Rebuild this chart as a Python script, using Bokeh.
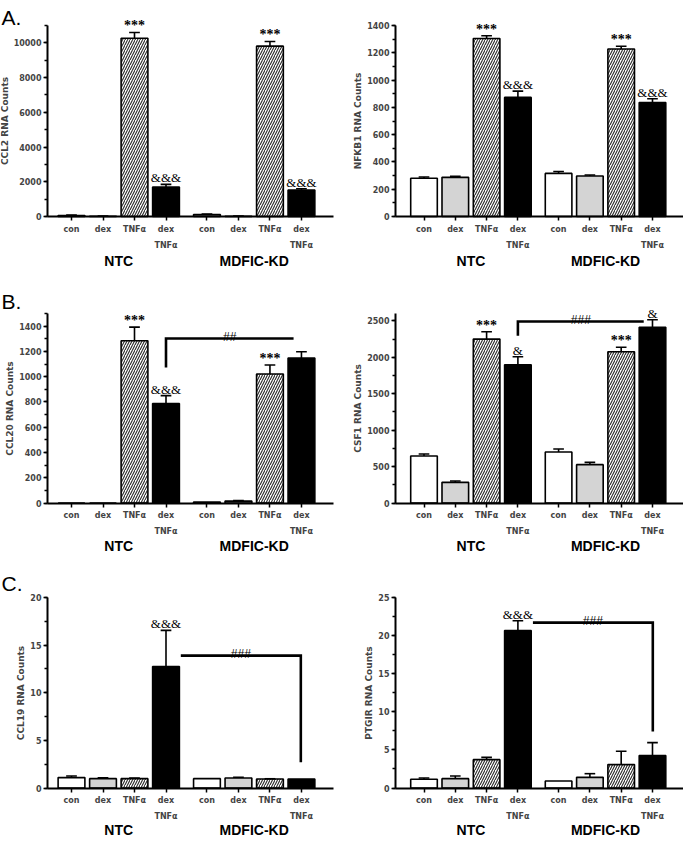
from bokeh.plotting import figure
from bokeh.models import Range1d, FixedTicker, ColumnDataSource, Label, LabelSet
from bokeh.layouts import column, row
from bokeh.embed import file_html
from bokeh.resources import INLINE

# ---------------- data ----------------
treatments = ["con", "dex", "TNFα", "dex\nTNFα"]
groups = ["NTC", "MDFIC-KD"]
treat_fill = ["white", "#d4d4d4", "white", "black"]
treat_hatch = [" ", " ", "right_diagonal_line", " "]

# order: NTC con, dex, TNFa, dex+TNFa, MDFIC-KD con, dex, TNFa, dex+TNFa
ccl2_mean = [60, 15, 10270, 1700, 110, 15, 9810, 1520]
ccl2_err = [20, 5, 330, 150, 30, 5, 270, 80]
ccl2_sig = ["", "", "***", "&&&", "", "", "***", "&&&"]

nfkb1_mean = [280, 287, 1305, 873, 316, 297, 1228, 836]
nfkb1_err = [10, 8, 20, 46, 14, 7, 20, 27]
nfkb1_sig = ["", "", "***", "&&&", "", "", "***", "&&&"]

ccl20_mean = [0, 0, 1284, 787, 8, 15, 1021, 1147]
ccl20_err = [0, 0, 108, 63, 0, 5, 71, 50]
ccl20_sig = ["", "", "***", "&&&", "", "", "***", ""]
ccl20_bracket_x = [30, 30, 70.5]
ccl20_bracket_y = [1073, 1302, 1302]
ccl20_bracket_label = "##"

csf1_mean = [645, 283, 2249, 1897, 700, 526, 2076, 2410]
csf1_err = [28, 18, 100, 110, 40, 32, 60, 105]
csf1_sig = ["", "", "***", "&", "", "", "***", "&"]
csf1_bracket_x = [30, 30, 70.2]
csf1_bracket_y = [2295, 2490, 2490]
csf1_bracket_label = "###"

ccl19_mean = [1.09, 0.98, 0.98, 12.75, 0.98, 1.05, 0.95, 0.95]
ccl19_err = [0.17, 0.08, 0.06, 3.8, 0, 0.08, 0.02, 0]
ccl19_sig = ["", "", "", "&&&", "", "", "", ""]
ccl19_bracket_x = [34.7, 72.8, 72.8]
ccl19_bracket_y = [13.9, 13.9, 2.7]
ccl19_bracket_label = "###"

ptgir_mean = [1.14, 1.23, 3.72, 20.67, 0.92, 1.40, 3.07, 4.25]
ptgir_err = [0.17, 0.35, 0.30, 1.27, 0, 0.48, 1.75, 1.71]
ptgir_sig = ["", "", "", "&&&", "", "", "", ""]
ptgir_bracket_x = [34.8, 73.1, 73.1]
ptgir_bracket_y = [21.7, 21.7, 7.4]
ptgir_bracket_label = "###"

# ---------------- layout (pixels on the page) ----------------
GAP = 13
POS = [g * (30 + GAP) + 10 * t for g in range(2) for t in range(4)]
GROUP_POS = [15, 58]

FIG_LEFT = [0, 340]
FIG_W = [340, 343]
FIG_TOP = [0, 270, 560]
FIG_H = [270, 290, 281]
FIRST_BAR_PX = [71, 423.5]
PX_PER_UNIT = [3.15, 3.13]
YAXIS_PX = [47, 395]
XAXIS_END_PX = [333, 683]
BASE_PX = [216, 502.5, 787.5]
TOP_PX = [25, 313, 597]
LETTER_BASE_PX = [17, 301, 583]
GROUP_DY = [44, 43, 42]

TICK_FONT = "DejaVu Sans"
LAB_FONT = "Liberation Sans"


def make_panel(letter, ylabel, mean, err, sig, ymax, major, minor,
               bx, by, blabel, col, rowi):
    W, H = FIG_W[col], FIG_H[rowi]
    fl, ft = FIG_LEFT[col], FIG_TOP[rowi]
    c0, ppu = FIRST_BAR_PX[col], PX_PER_UNIT[col]
    base, top = BASE_PX[rowi], TOP_PX[rowi]
    ppy = (base - top) / ymax

    def X(px):
        return (px - c0) / ppu

    def Y(py):
        return (base - py) / ppy

    p = figure(width=W, height=H,
               x_range=Range1d(X(fl), X(fl + W)), y_range=Range1d(Y(ft + H), Y(ft)),
               output_backend="svg", toolbar_location=None,
               min_border_left=0, min_border_right=0, min_border_top=0,
               min_border_bottom=0)
    p.outline_line_color = None
    p.xgrid.visible = False
    p.ygrid.visible = False
    p.background_fill_color = "white"
    p.border_fill_color = "white"

    fills = [treat_fill[i % 4] for i in range(8)]
    hatches = [treat_hatch[i % 4] for i in range(8)]
    src = ColumnDataSource(dict(x=POS, top=mean, fill=fills, hatch=hatches))
    p.vbar(x="x", top="top", width=8.5, bottom=0, source=src, fill_color="fill",
           line_color="black", line_width=1.6, hatch_pattern="hatch",
           hatch_color="#2a2a2a", hatch_scale=5, hatch_weight=1.1)

    # error bars (upper)
    ex, ey0, ey1 = [], [], []
    for x, m, e in zip(POS, mean, err):
        if e > 0:
            ex.append(x); ey0.append(m); ey1.append(m + e)
    p.segment(x0=ex, y0=ey0, x1=ex, y1=ey1, line_color="black", line_width=1.6)
    p.segment(x0=[x - 1.7 for x in ex], y0=ey1, x1=[x + 1.7 for x in ex], y1=ey1,
              line_color="black", line_width=1.6)

    # significance labels
    for kind, size, style in (("*", "14px", "bold"), ("&", "13px", "normal")):
        sx, sy, st = [], [], []
        for x, m, e, s in zip(POS, mean, err, sig):
            if s and s[0] == kind:
                sx.append(x); sy.append(m + e); st.append(s)
        if sx:
            p.add_layout(LabelSet(x="x", y="y", text="t",
                                  source=ColumnDataSource(dict(x=sx, y=sy, t=st)),
                                  text_align="center", text_baseline="alphabetic",
                                  y_offset=2, text_font=LAB_FONT, text_font_size=size,
                                  text_font_style=style, text_color="black"))

    if bx is not None:
        p.line(x=bx, y=by, line_color="black", line_width=2.6, line_join="miter")
        mid = (min(bx) + max(bx)) / 2
        p.add_layout(Label(x=mid, y=max(by), text=blabel, text_align="center",
                           text_baseline="alphabetic", y_offset=2, text_font=LAB_FONT,
                           text_font_size="12px", text_color="black"))

    # y axis (fixed inside the frame)
    majors = []
    v = 0
    while v <= ymax + 1e-9:
        majors.append(v); v += major
    minors = []
    v = 0
    while v <= ymax + 1e-9:
        minors.append(v); v += minor
    ya = p.yaxis[0]
    ya.fixed_location = X(YAXIS_PX[col])
    ya.bounds = (0, ymax)
    ya.ticker = FixedTicker(ticks=majors, minor_ticks=minors)
    ya.axis_label = ylabel
    ya.axis_label_text_font = TICK_FONT
    ya.axis_label_text_font_style = "bold"
    ya.axis_label_text_font_size = "9px"
    ya.axis_label_standoff = 1
    ya.major_label_text_font = TICK_FONT
    ya.major_label_text_font_style = "bold"
    ya.major_label_text_font_size = "8px"
    ya.major_label_standoff = 2
    ya.axis_line_width = 2
    ya.major_tick_line_width = 1.5
    ya.minor_tick_line_width = 1.5
    ya.major_tick_in = 0
    ya.major_tick_out = 4
    ya.minor_tick_in = 0
    ya.minor_tick_out = 3

    # x axis (treatments), fixed at y = 0
    xa = p.xaxis[0]
    xa.fixed_location = 0
    xa.bounds = (X(YAXIS_PX[col]), X(XAXIS_END_PX[col]))
    xa.ticker = FixedTicker(ticks=POS, minor_ticks=[])
    xa.major_label_overrides = {POS[i]: treatments[i % 4] for i in range(8)}
    xa.major_label_text_font = TICK_FONT
    xa.major_label_text_font_style = "bold"
    xa.major_label_text_font_size = "8px"
    xa.major_label_text_line_height = 1.8
    xa.major_label_standoff = 4
    xa.axis_line_width = 2
    xa.major_tick_line_width = 1.5
    xa.major_tick_in = 0
    xa.major_tick_out = 4

    # group labels
    for gx, g in zip(GROUP_POS, groups):
        p.add_layout(Label(x=gx, y=Y(base + GROUP_DY[rowi]), text=g, text_align="center",
                           text_baseline="middle", text_font=LAB_FONT,
                           text_font_style="bold", text_font_size="14px",
                           text_color="black"))

    # panel letter
    if letter:
        p.add_layout(Label(x=X(fl + 1), y=Y(LETTER_BASE_PX[rowi]), text=letter,
                           text_font=LAB_FONT, text_font_size="21px",
                           text_baseline="alphabetic", text_align="left",
                           text_color="black"))
    return p


a1 = make_panel("A.", "CCL2 RNA Counts", ccl2_mean, ccl2_err, ccl2_sig, 11000, 2000, 1000,
                None, None, None, 0, 0)
a2 = make_panel("", "NFKB1 RNA Counts", nfkb1_mean, nfkb1_err, nfkb1_sig, 1400, 200, 100,
                None, None, None, 1, 0)
b1 = make_panel("B.", "CCL20 RNA Counts", ccl20_mean, ccl20_err, ccl20_sig, 1500, 200, 100,
                ccl20_bracket_x, ccl20_bracket_y, ccl20_bracket_label, 0, 1)
b2 = make_panel("", "CSF1 RNA Counts", csf1_mean, csf1_err, csf1_sig, 2600, 500, 250,
                csf1_bracket_x, csf1_bracket_y, csf1_bracket_label, 1, 1)
c1 = make_panel("C.", "CCL19 RNA Counts", ccl19_mean, ccl19_err, ccl19_sig, 20, 5, 2.5,
                ccl19_bracket_x, ccl19_bracket_y, ccl19_bracket_label, 0, 2)
c2 = make_panel("", "PTGIR RNA Counts", ptgir_mean, ptgir_err, ptgir_sig, 25, 5, 2.5,
                ptgir_bracket_x, ptgir_bracket_y, ptgir_bracket_label, 1, 2)

layout = column(row(a1, a2), row(b1, b2), row(c1, c2))
open("out.html", "w").write(file_html(layout, INLINE))
